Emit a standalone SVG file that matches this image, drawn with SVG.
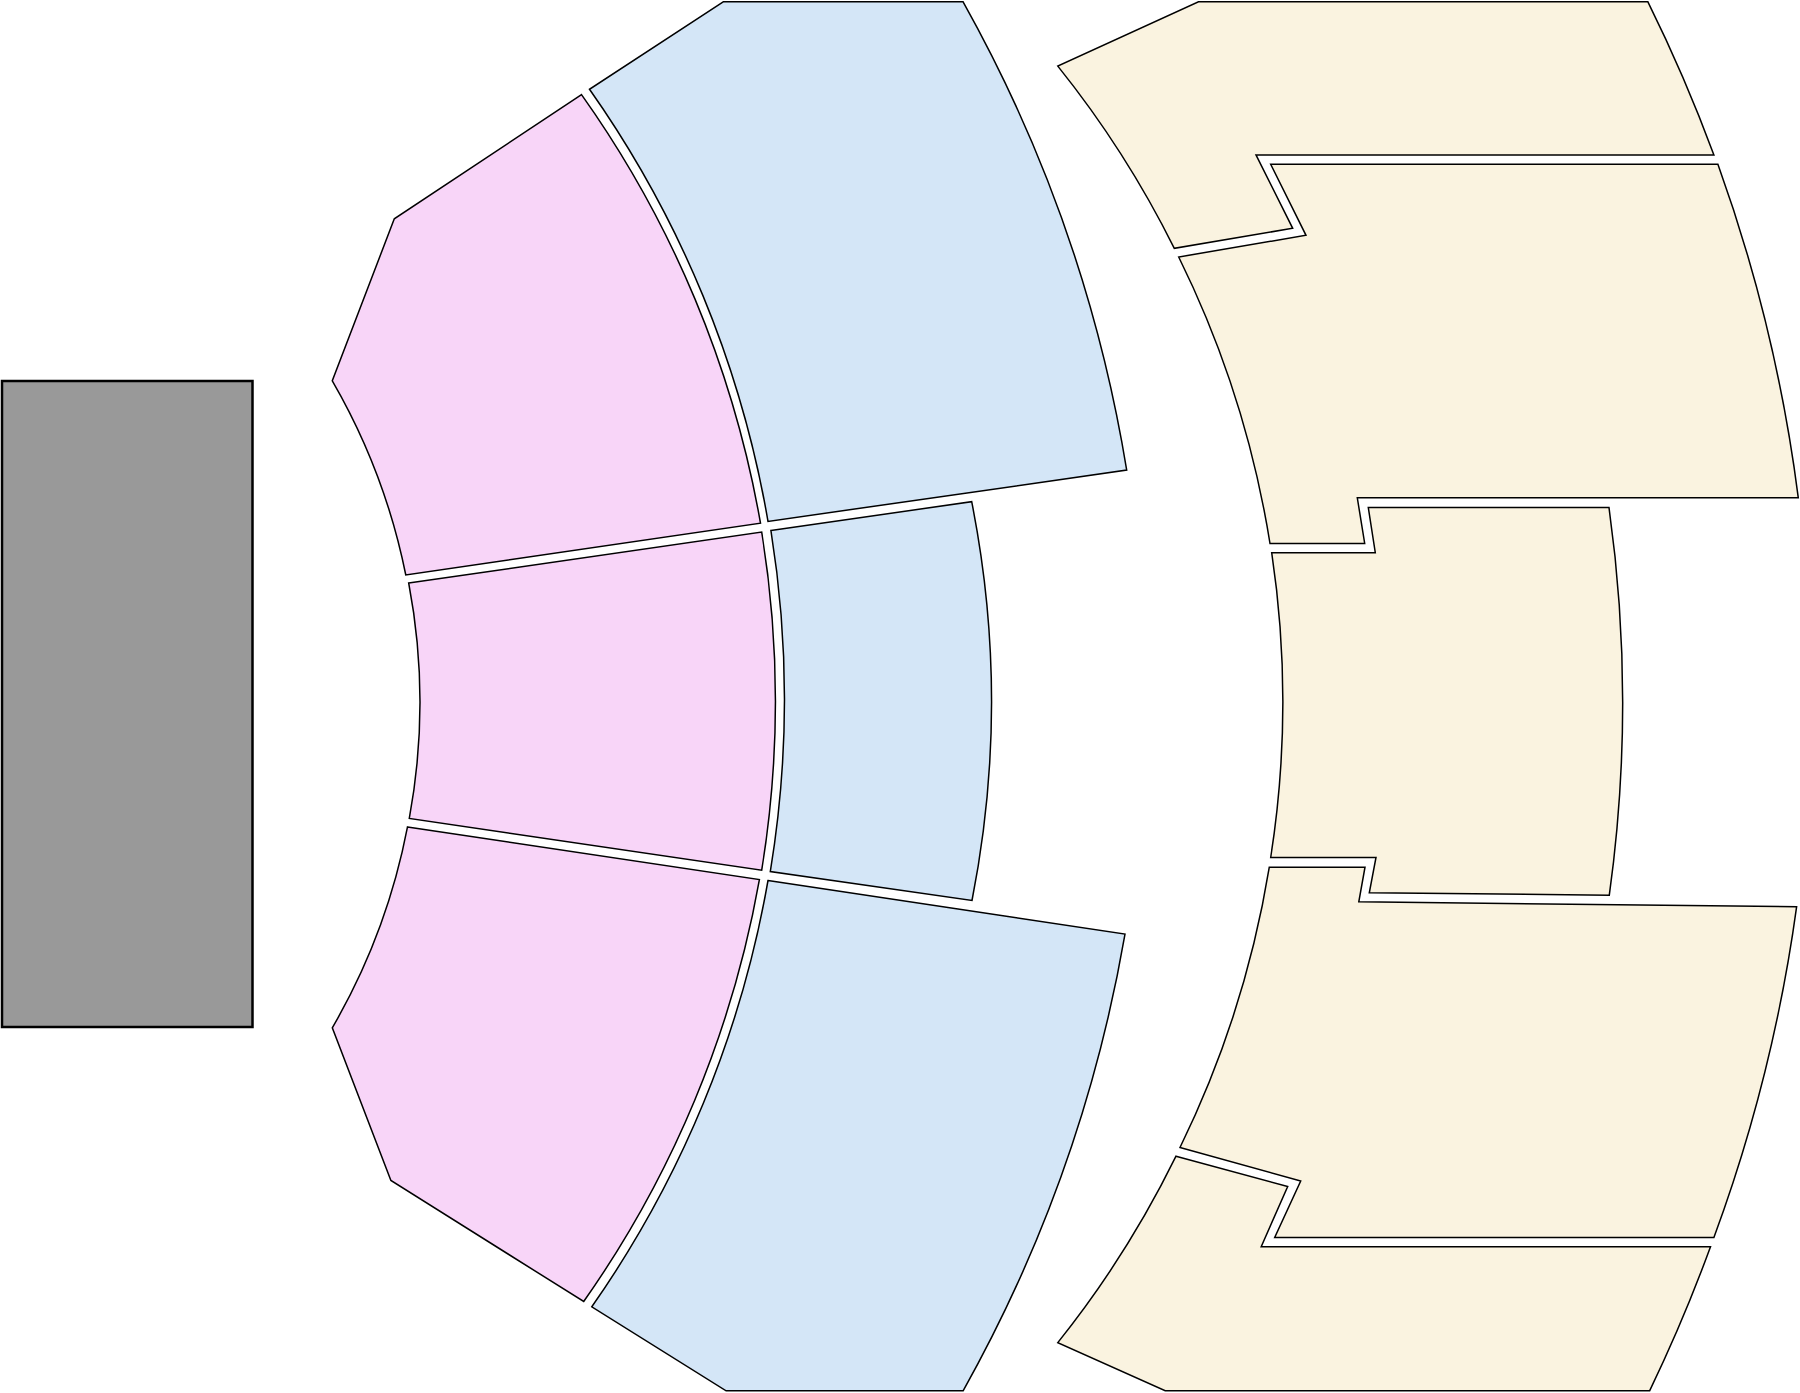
<svg xmlns="http://www.w3.org/2000/svg" width="1800" height="1393" viewBox="0 0 1800 1393">
<style>
.sec{stroke:#000;stroke-width:1.5;stroke-linejoin:miter}
.pink{fill:#F8D5F8}
.blue{fill:#D4E6F7}
.beige{fill:#FAF3E0}
.stage{fill:#999999;stroke:#000;stroke-width:2.5}
</style>
<rect x="0" y="0" width="1800" height="1393" fill="#FFFFFF"/>
<g id="stage"><rect class="stage" x="2" y="381" width="250.5" height="646"/></g>
<g id="pink-top"><path class="sec pink" d="M581.5,94.6 L394.3,218.8 L332.3,380.8 A640,640 0 0 1 405.8,575 L760.5,523.2 A1053,1053 0 0 0 581.5,94.6 Z"/></g>
<g id="pink-middle"><path class="sec pink" d="M408.7,583 L761.7,532.1 A1053,1053 0 0 1 761.7,870.2 L409.3,818.4 A640,640 0 0 0 408.7,583 Z"/></g>
<g id="pink-bottom"><path class="sec pink" d="M407.5,826.9 L759.4,879.6 A1053,1053 0 0 1 583.7,1301.5 L390.9,1180.5 L332.3,1027.8 A640,640 0 0 0 407.5,826.9 Z"/></g>
<g id="blue-top"><path class="sec blue" d="M723.2,1.8 L589.5,89.3 A1062,1062 0 0 1 768,521.4 L1126.7,470.1 A1434,1434 0 0 0 963.1,1.8 Z"/></g>
<g id="blue-middle"><path class="sec blue" d="M770.9,530.4 L971.7,501.7 A1028,1028 0 0 1 972,900.5 L770.3,871.6 A1062,1062 0 0 0 770.9,530.4 Z"/></g>
<g id="blue-bottom"><path class="sec blue" d="M768,880.5 L1125,934.1 A1434,1434 0 0 1 963.1,1390.8 L726.1,1390.8 L591.8,1306.8 A1062,1062 0 0 0 768,880.5 Z"/></g>
<g id="beige-1"><path class="sec beige" d="M1198.5,1.8 L1647.9,1.8 A1573,1573 0 0 1 1713.9,154.9 L1256,154.9 L1292.7,228.3 L1174.3,248.3 A1007,1007 0 0 0 1057.8,66.1 Z"/></g>
<g id="beige-2"><path class="sec beige" d="M1270.7,164.3 L1717.9,164.3 A1573,1573 0 0 1 1798.3,497.8 L1357.3,497.8 L1364.7,543.5 L1270,543.5 A1007,1007 0 0 0 1178.7,257 L1306,235.3 Z"/></g>
<g id="beige-3"><path class="sec beige" d="M1368.3,507.6 L1609,507.6 A1400,1400 0 0 1 1609.3,895.2 L1369.3,892.8 L1376,857.5 L1270.7,857.5 A1007,1007 0 0 0 1271.7,552.7 L1375.3,552.7 Z"/></g>
<g id="beige-4"><path class="sec beige" d="M1269.3,867.2 L1365,867.2 L1358.8,901.8 L1796.6,906.8 A1573,1573 0 0 1 1713.9,1237.5 L1274.7,1237.5 L1300.7,1181 L1180,1147.5 A1007,1007 0 0 0 1269.3,867.2 Z"/></g>
<g id="beige-5"><path class="sec beige" d="M1176,1156.2 L1287.7,1186.5 L1261.2,1246.7 L1710.5,1246.7 A1573,1573 0 0 1 1649.6,1390.8 L1165.2,1390.8 L1057.8,1342.6 A1007,1007 0 0 0 1176,1156.2 Z"/></g>
<g id="connectors"></g>
</svg>
